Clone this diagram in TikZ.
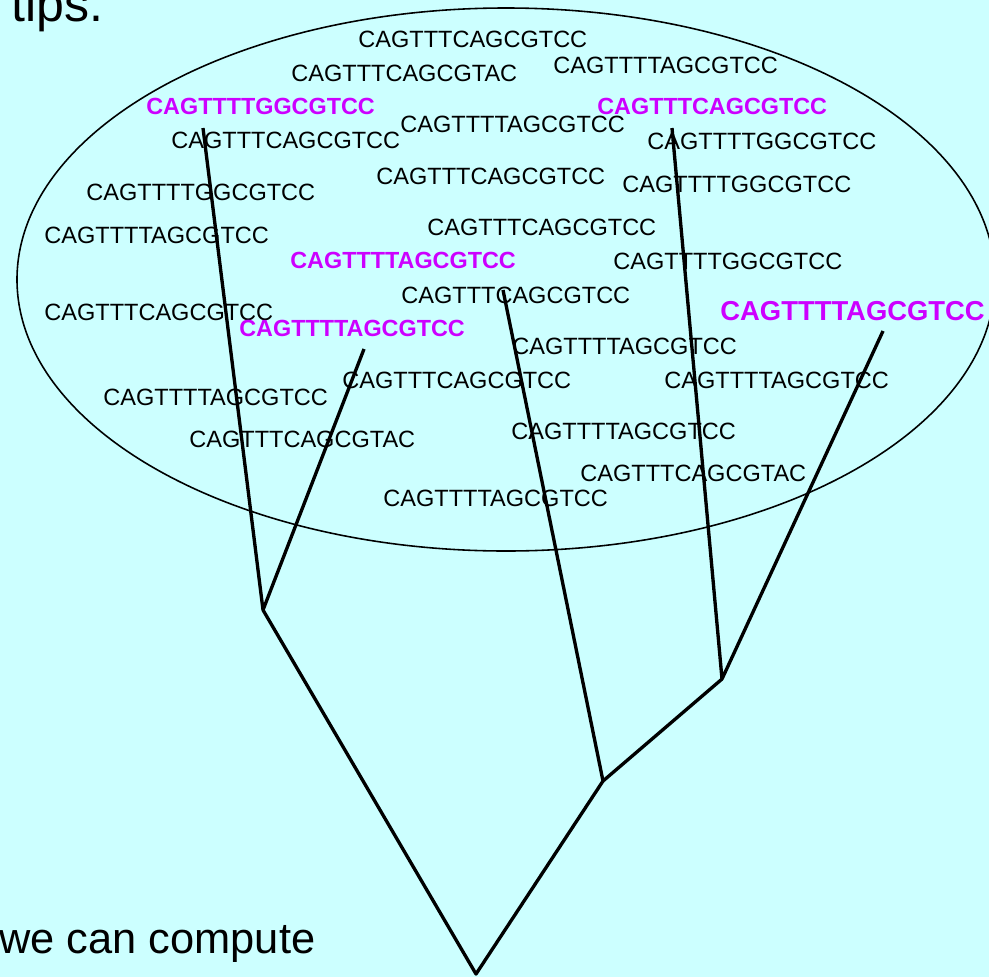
\documentclass[tikz,border=0pt]{standalone}
\usepackage{fontspec}
\setmainfont{Liberation Sans}
\definecolor{slidebg}{RGB}{204,255,255}
\definecolor{hitcol}{RGB}{204,0,255}

\begin{document}
\begin{tikzpicture}[x=0.02cm,y=-0.02cm,
    seq/.style={anchor=west, inner sep=0pt, font=\fontsize{13.4}{16}\selectfont},
    hit/.style={seq, text=hitcol, font=\fontsize{13.3}{16}\selectfont\bfseries},
    bighit/.style={seq, text=hitcol, font=\fontsize{15.6}{18}\selectfont\bfseries},
    slidetext/.style={anchor=base west, inner sep=0pt, font=\fontsize{24.7}{30}\selectfont},
    branch/.style={line width=1.9pt, line join=round}]
  \fill[slidebg] (0,0) rectangle (989,977);
  \useasboundingbox (0,0) rectangle (989,977);

  \node[slidetext, font=\fontsize{28.5}{34}\selectfont] (tips) at (11,21) {tips.};
  \node[slidetext] (compute) at (-1,953) {we can compute};

  \draw[line width=0.9pt] (506,279.5) ellipse [x radius=489, y radius=271.5];

  % sampled sequences
  \node[seq] (s1)  at (358,39)  {CAGTTTCAGCGTCC};
  \node[seq] (s2)  at (291,73)  {CAGTTTCAGCGTAC};
  \node[seq] (s3)  at (553,65)  {CAGTTTTAGCGTCC};
  \node[hit] (h1)  at (146,106) {CAGTTTTGGCGTCC};
  \node[seq] (s4)  at (171,140) {CAGTTTCAGCGTCC};
  \node[seq] (s5)  at (400,124) {CAGTTTTAGCGTCC};
  \node[hit] (h2)  at (597,106) {CAGTTTCAGCGTCC};
  \node[seq] (s6)  at (647,141) {CAGTTTTGGCGTCC};
  \node[seq] (s7)  at (86,192)  {CAGTTTTGGCGTCC};
  \node[seq] (s8)  at (376,176) {CAGTTTCAGCGTCC};
  \node[seq] (s9)  at (622,184) {CAGTTTTGGCGTCC};
  \node[seq] (s10) at (44,235)  {CAGTTTTAGCGTCC};
  \node[seq] (s11) at (427,227) {CAGTTTCAGCGTCC};
  \node[hit] (h3)  at (290,260) {CAGTTTTAGCGTCC};
  \node[seq] (s12) at (613,261) {CAGTTTTGGCGTCC};
  \node[seq] (s13) at (401,295) {CAGTTTCAGCGTCC};
  \node[bighit] (h4) at (720,311) {CAGTTTTAGCGTCC};
  \node[seq] (s14) at (44,312)  {CAGTTTCAGCGTCC};
  \node[hit] (h5)  at (239,328) {CAGTTTTAGCGTCC};
  \node[seq] (s15) at (512,346) {CAGTTTTAGCGTCC};
  \node[seq] (s16) at (342,380) {CAGTTTCAGCGTCC};
  \node[seq] (s17) at (664,380) {CAGTTTTAGCGTCC};
  \node[seq] (s18) at (103,397) {CAGTTTTAGCGTCC};
  \node[seq] (s19) at (189,439) {CAGTTTCAGCGTAC};
  \node[seq] (s20) at (511,431) {CAGTTTTAGCGTCC};
  \node[seq] (s21) at (580,473) {CAGTTTCAGCGTAC};
  \node[seq] (s22) at (383,498) {CAGTTTTAGCGTCC};

  % tree
  \coordinate (leafA) at (203,128);
  \coordinate (leafB) at (364,349);
  \coordinate (leafC) at (503,290);
  \coordinate (leafD) at (672,128);
  \coordinate (leafE) at (883,331);
  \coordinate (nodeAB) at (263,610);
  \coordinate (nodeDE) at (722,679);
  \coordinate (nodeCDE) at (603,781);
  \coordinate (root) at (476,974);

  \draw[branch] (leafA) -- (nodeAB) -- (leafB);
  \draw[branch] (leafD) -- (nodeDE) -- (leafE);
  \draw[branch] (leafC) -- (nodeCDE) -- (nodeDE);
  \draw[branch] (nodeAB) -- (root) -- (nodeCDE);
\end{tikzpicture}
\end{document}
